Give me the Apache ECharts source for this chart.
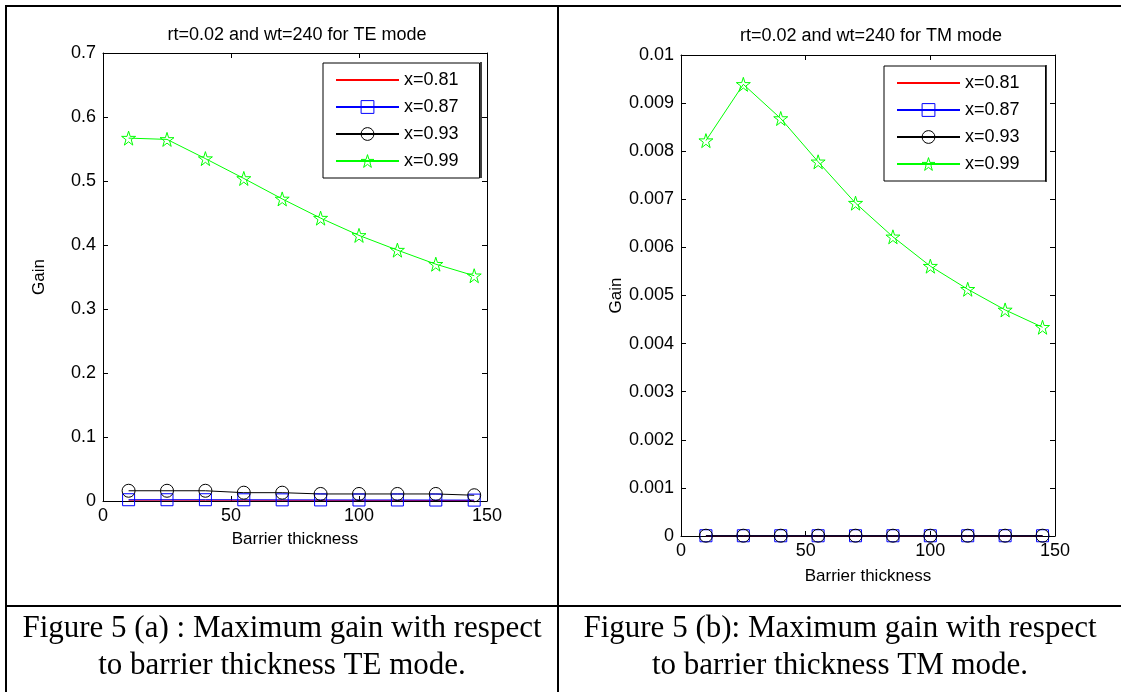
<!DOCTYPE html>
<html>
<head>
<meta charset="utf-8">
<script src="https://cdn.jsdelivr.net/npm/echarts@6/dist/echarts.min.js"></script>
<style>
  html, body { margin: 0; padding: 0; background: #fff; }
  #main { width: 1121px; height: 692px; }
</style>
</head>
<body>
<div id="main"></div>
<script>
// barrier thickness
var xs = [10, 25, 40, 55, 70, 85, 100, 115, 130, 145];
var names = ['x=0.81', 'x=0.87', 'x=0.93', 'x=0.99'];

// TE mode gain
var te81 = [0.0012, 0.0012, 0.0011, 0.0011, 0.0010, 0.0010, 0.0009, 0.0009, 0.0008, 0.0008];
var te87 = [0.0020, 0.0020, 0.0020, 0.0019, 0.0018, 0.0017, 0.0016, 0.0016, 0.0015, 0.0014];
var te93 = [0.016, 0.016, 0.016, 0.013, 0.013, 0.011, 0.011, 0.011, 0.011, 0.009];
var te99 = [0.567, 0.565, 0.535, 0.504, 0.472, 0.442, 0.415, 0.392, 0.370, 0.352];

// TM mode gain
var tm81 = [0.000002, 0.000002, 0.000002, 0.000002, 0.000002, 0.000002, 0.000002, 0.000002, 0.000002, 0.000002];
var tm87 = [0.000005, 0.000005, 0.000005, 0.000005, 0.000005, 0.000005, 0.000005, 0.000005, 0.000005, 0.000005];
var tm93 = [0.000006, 0.000006, 0.000006, 0.000006, 0.000006, 0.000006, 0.000006, 0.000006, 0.000006, 0.000006];
var tm99 = [0.00822, 0.00939, 0.00868, 0.00778, 0.00692, 0.00622, 0.00561, 0.00513, 0.00470, 0.00434];

var captionA = ['Figure 5 (a) : Maximum gain with respect', 'to barrier thickness TE mode.'];
var captionB = ['Figure 5 (b): Maximum gain with respect', 'to barrier thickness TM mode.'];

var STAR = 'path://M50,2 L61,37 L98,37 L68,59 L79,95 L50,73 L21,95 L32,59 L2,37 L39,37 Z';
var FONT = 'Arial, "Liberation Sans", sans-serif';
var NONE = 'rgba(0,0,0,0)';
var colors = ['#ff0000', '#0000ff', '#000000', '#00ff00'];
var symbols = ['circle', 'rect', 'circle', STAR];
var sizes = [1, 12, 13, 14];

function pairs(ys) {
    var res = [];
    for (var i = 0; i < xs.length; i++) {
        res.push([xs[i], ys[i]]);
    }
    return res;
}

function fmt(v) {
    return String(+v.toFixed(4));
}

// 四条曲线
function makeSeries(k, arrs) {
    var res = [];
    for (var i = 0; i < 4; i++) {
        res.push({
            name: names[i], type: 'line', xAxisIndex: k * 2, yAxisIndex: k * 2,
            data: pairs(arrs[i]),
            symbol: symbols[i], symbolSize: sizes[i], showSymbol: i > 0,
            lineStyle: {color: colors[i], width: 1},
            itemStyle: {color: NONE, borderColor: i > 0 ? colors[i] : NONE, borderWidth: 1},
            animation: false
        });
    }
    return res;
}

function xAxes(k, nameGap) {
    return [
        {gridIndex: k, type: 'value', min: 0, max: 150, interval: 50, position: 'bottom',
            name: 'Barrier thickness', nameLocation: 'middle', nameGap: nameGap,
            nameTextStyle: {color: '#000', fontSize: 17, fontFamily: FONT},
            axisLine: {onZero: false, lineStyle: {color: '#000', width: 1}},
            axisTick: {inside: true, length: 5, lineStyle: {color: '#000'}},
            axisLabel: {color: '#000', fontSize: 18, fontFamily: FONT, margin: 6},
            splitLine: {show: false}},
        {gridIndex: k, type: 'value', min: 0, max: 150, interval: 50, position: 'top',
            axisLine: {onZero: false, lineStyle: {color: '#000', width: 1}},
            axisTick: {inside: true, length: 5, lineStyle: {color: '#000'}},
            axisLabel: {show: false}, splitLine: {show: false}}
    ];
}

function yAxes(k, max, interval, nameGap) {
    return [
        {gridIndex: k, type: 'value', min: 0, max: max, interval: interval, position: 'left',
            name: 'Gain', nameLocation: 'middle', nameGap: nameGap, nameRotate: 90,
            nameTextStyle: {color: '#000', fontSize: 17, fontFamily: FONT},
            axisLine: {show: true, onZero: false, lineStyle: {color: '#000', width: 1}},
            axisTick: {show: true, inside: true, length: 5, lineStyle: {color: '#000'}},
            axisLabel: {color: '#000', fontSize: 18, fontFamily: FONT, margin: 7, formatter: fmt},
            splitLine: {show: false}},
        {gridIndex: k, type: 'value', min: 0, max: max, interval: interval, position: 'right',
            axisLine: {show: true, onZero: false, lineStyle: {color: '#000', width: 1}},
            axisTick: {show: true, inside: true, length: 5, lineStyle: {color: '#000'}},
            axisLabel: {show: false}, splitLine: {show: false}}
    ];
}

function legendAt(left, top, padRight) {
    var data = [];
    for (var i = 0; i < 4; i++) {
        data.push({name: names[i],
            itemStyle: {color: NONE, borderColor: i > 0 ? colors[i] : NONE, borderWidth: 1}});
    }
    return {
        left: left, top: top, orient: 'vertical',
        itemWidth: 63, itemHeight: 16, itemGap: 9,
        padding: [8, padRight, 8, 12],
        borderColor: '#000', borderWidth: 1, backgroundColor: '#fff',
        textStyle: {color: '#000', fontSize: 18, fontFamily: FONT},
        data: data
    };
}

// 表格边框与图注
function border(x1, y1, x2, y2, w) {
    return {type: 'line', shape: {x1: x1, y1: y1, x2: x2, y2: y2},
        style: {stroke: '#000', lineWidth: w || 2}, silent: true, z: 10};
}
function caption(text, cx, cy) {
    return {type: 'text', x: cx, y: cy,
        style: {text: text, x: 0, y: 0, align: 'center', verticalAlign: 'middle',
            fill: '#000', fontSize: 31, fontFamily: 'Liberation Serif'}};
}

var myChart = echarts.init(document.getElementById('main'));
myChart.setOption({
    animation: false,
    title: [
        {text: 'rt=0.02 and wt=240 for TE mode', left: 292, top: 21, textAlign: 'center',
            textStyle: {color: '#000', fontSize: 18, fontWeight: 'normal', fontFamily: FONT}},
        {text: 'rt=0.02 and wt=240 for TM mode', left: 866, top: 22, textAlign: 'center',
            textStyle: {color: '#000', fontSize: 18, fontWeight: 'normal', fontFamily: FONT}}
    ],
    grid: [
        {left: 103, top: 53, width: 384, height: 448},
        {left: 681, top: 55, width: 374, height: 481}
    ],
    legend: [legendAt(323, 63, 21), legendAt(884, 66, 26)],
    xAxis: xAxes(0, 30).concat(xAxes(1, 32)),
    yAxis: yAxes(0, 0.7, 0.1, 55).concat(yAxes(1, 0.01, 0.001, 42)),
    series: makeSeries(0, [te81, te87, te93, te99]).concat(makeSeries(1, [tm81, tm87, tm93, tm99])),
    graphic: [
        border(5, 6, 1121, 6),
        border(6, 6, 6, 692),
        border(558, 6, 558, 692),
        border(6, 606, 1121, 606),
        border(481, 62, 481, 178, 1.5),
        border(1046, 65, 1046, 182, 1.5),
        caption(captionA[0], 282, 629),
        caption(captionA[1], 282, 666),
        caption(captionB[0], 840, 629),
        caption(captionB[1], 840, 666)
    ]
});
</script>
</body>
</html>
